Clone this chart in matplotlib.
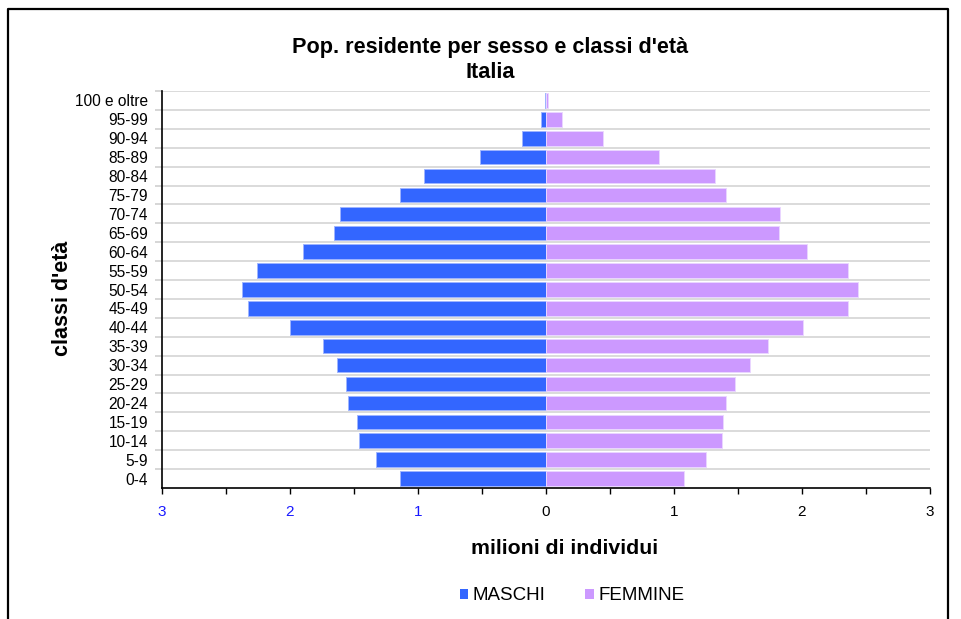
import matplotlib
matplotlib.use("Agg")
import matplotlib.pyplot as plt
from matplotlib.lines import Line2D
from matplotlib.patches import Patch
import numpy as np

plt.rcParams['font.family'] = ['Liberation Sans', 'DejaVu Sans']

# classi d'eta dal basso verso l'alto
classi = ["0-4", "5-9", "10-14", "15-19", "20-24", "25-29", "30-34", "35-39",
          "40-44", "45-49", "50-54", "55-59", "60-64", "65-69", "70-74",
          "75-79", "80-84", "85-89", "90-94", "95-99", "100 e oltre"]
# milioni di individui
maschi = [1.138, 1.326, 1.461, 1.474, 1.547, 1.565, 1.633, 1.745, 2.000, 2.328,
          2.375, 2.260, 1.900, 1.654, 1.607, 1.140, 0.953, 0.513, 0.188, 0.037, 0.006]
femmine = [1.076, 1.250, 1.377, 1.380, 1.406, 1.477, 1.591, 1.734, 2.005, 2.360,
           2.437, 2.360, 2.041, 1.820, 1.828, 1.404, 1.323, 0.880, 0.443, 0.122, 0.013]
xticks_lab = [-3, -2, -1, 0, 1, 2, 3]

W, H = 961, 619
fig = plt.figure(figsize=(W / 100, H / 100), dpi=100)
ax = fig.add_axes([162 / W, 1 - 488 / H, (930 - 162) / W, (488 - 91) / H])

y = np.arange(len(classi))
ax.barh(y, -np.array(maschi), height=0.77, color='#3366FF', edgecolor='#9fb5ff',
        linewidth=0.7, label='MASCHI', zorder=3)
ax.barh(y, femmine, height=0.77, color='#CC99FF', edgecolor='#ead6ff',
        linewidth=0.7, label='FEMMINE', zorder=3)

ax.set_xlim(-3, 3)
ax.set_ylim(-0.5, len(classi) - 0.5)

ax.set_yticks(y)
ax.set_yticklabels(classi, fontsize=11.2)
ax.tick_params(axis='y', which='major', length=0, pad=10)
ax.set_yticks(np.arange(len(classi)) + 0.5, minor=True)
ax.tick_params(axis='y', which='minor', length=5, color='#d0d0d0', width=1.2)
ax.grid(axis='y', which='minor', color='#d4d4d4', linewidth=1.2, zorder=0)

ax.set_xticks(xticks_lab)
ax.set_xticklabels([str(abs(v)) for v in xticks_lab], fontsize=11)
for lab, v in zip(ax.get_xticklabels(), xticks_lab):
    lab.set_color('#1a1aff' if v < 0 else 'black')
ax.set_xticks(np.arange(-3, 3.01, 0.5), minor=True)
ax.tick_params(axis='x', which='both', length=4, width=1, pad=8)

for s in ['top', 'right']:
    ax.spines[s].set_visible(False)
ax.spines['left'].set_linewidth(1.2)
ax.spines['bottom'].set_linewidth(1.2)

fig.text(490 / W, 1 - 47 / H, "Pop. residente per sesso e classi d'età", ha='center',
         va='center', fontsize=15.6, fontweight='bold')
fig.text(490 / W, 1 - 72 / H, "Italia", ha='center', va='center', fontsize=15.6,
         fontweight='bold')
fig.text(63 / W, 1 - 298 / H, "classi d'età", rotation=90, ha='center', va='center',
         fontsize=15.5, fontweight='bold')
fig.text(565 / W, 1 - 549 / H, "milioni di individui", ha='center', va='center',
         fontsize=15.3, fontweight='bold')

handles = [Patch(facecolor='#3366FF', label='MASCHI'),
           Patch(facecolor='#CC99FF', label='FEMMINE')]
fig.legend(handles=handles, loc='center', bbox_to_anchor=(572 / W, 1 - 596 / H),
           ncol=2, frameon=False, fontsize=13.5, handlelength=0.45, handleheight=0.5,
           handletextpad=0.25, columnspacing=2.1)

# cornice
fig.add_artist(Line2D([8 / W, 8 / W, 948 / W, 948 / W], [0, 1 - 9 / H, 1 - 9 / H, 0],
                      color='black', linewidth=1.6, transform=fig.transFigure))

fig.savefig("out.png", dpi=100)
